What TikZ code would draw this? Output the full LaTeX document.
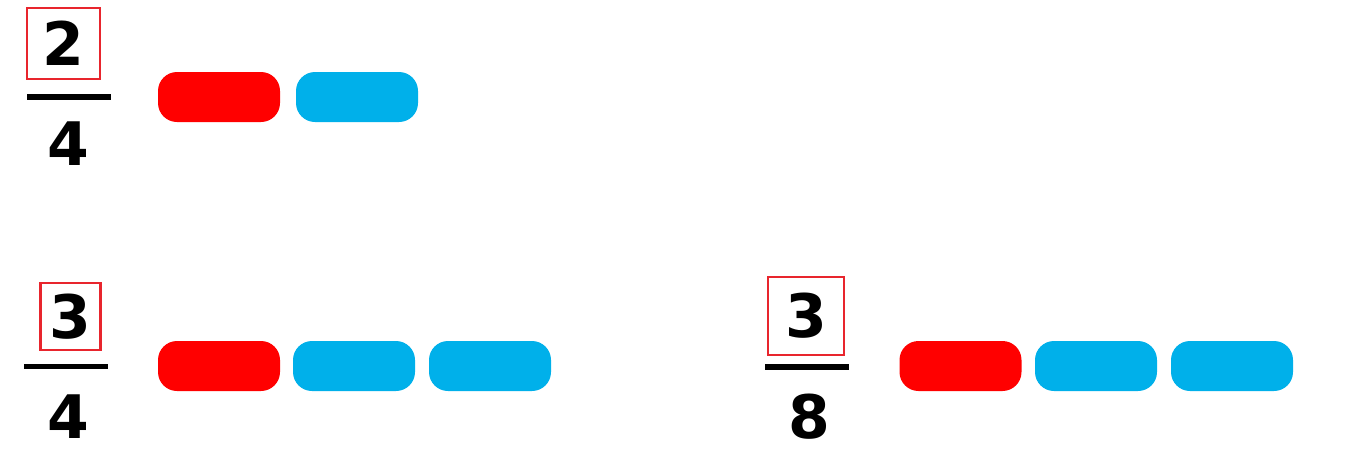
\documentclass[tikz,border=0pt]{standalone}
\usepackage{fontspec}
\newfontfamily\digitfont{DejaVu Sans}
\usepackage{xcolor}
\definecolor{pillred}{HTML}{FF0000}
\definecolor{pillblue}{HTML}{00B0EA}
\definecolor{boxred}{HTML}{E8252D}

\begin{document}
\begin{tikzpicture}[
    x=1pt, y=-1pt,
    digit/.style={
        font=\digitfont\bfseries\fontsize{60}{60}\selectfont,
        inner sep=0pt
    },
    numbox/.style={
        digit,
        draw=boxred,
        line width=2.6pt
    },
    fracbar/.style={
        fill=black,
        minimum width=84pt,
        minimum height=5.5pt,
        inner sep=0pt
    },
    redpill/.style={
        fill=pillred,
        rounded corners=19pt,
        minimum width=122pt,
        minimum height=50pt,
        inner sep=0pt
    },
    bluepill/.style={
        redpill,
        fill=pillblue
    }
]
\useasboundingbox (0,0) rectangle (1348,466);

% 2/4
\node[numbox, minimum width=73pt, minimum height=71pt] (numA) at (63.5,43.5) {2};
\node[fracbar] (barA) at (69,97) {};
\node[digit] (denA) at (68.5,144) {4};
\node[redpill] (redA) at (219,97) {};
\node[bluepill] (blueA1) at (357,97) {};

% 3/4
\node[numbox, minimum width=60pt, minimum height=67pt] (numB) at (70.5,316.5) {3};
\node[fracbar] (barB) at (66,366.5) {};
\node[digit] (denB) at (68.5,417) {4};
\node[redpill] (redB) at (219,366) {};
\node[bluepill] (blueB1) at (354,366) {};
\node[bluepill] (blueB2) at (490,366) {};

% 3/8
\node[numbox, minimum width=76pt, minimum height=78pt] (numC) at (806,316) {3};
\node[fracbar] (barC) at (807,367) {};
\node[digit] (denC) at (809,417) {8};
\node[redpill] (redC) at (960.5,366) {};
\node[bluepill] (blueC1) at (1096,366) {};
\node[bluepill] (blueC2) at (1232,366) {};

\end{tikzpicture}
\end{document}
